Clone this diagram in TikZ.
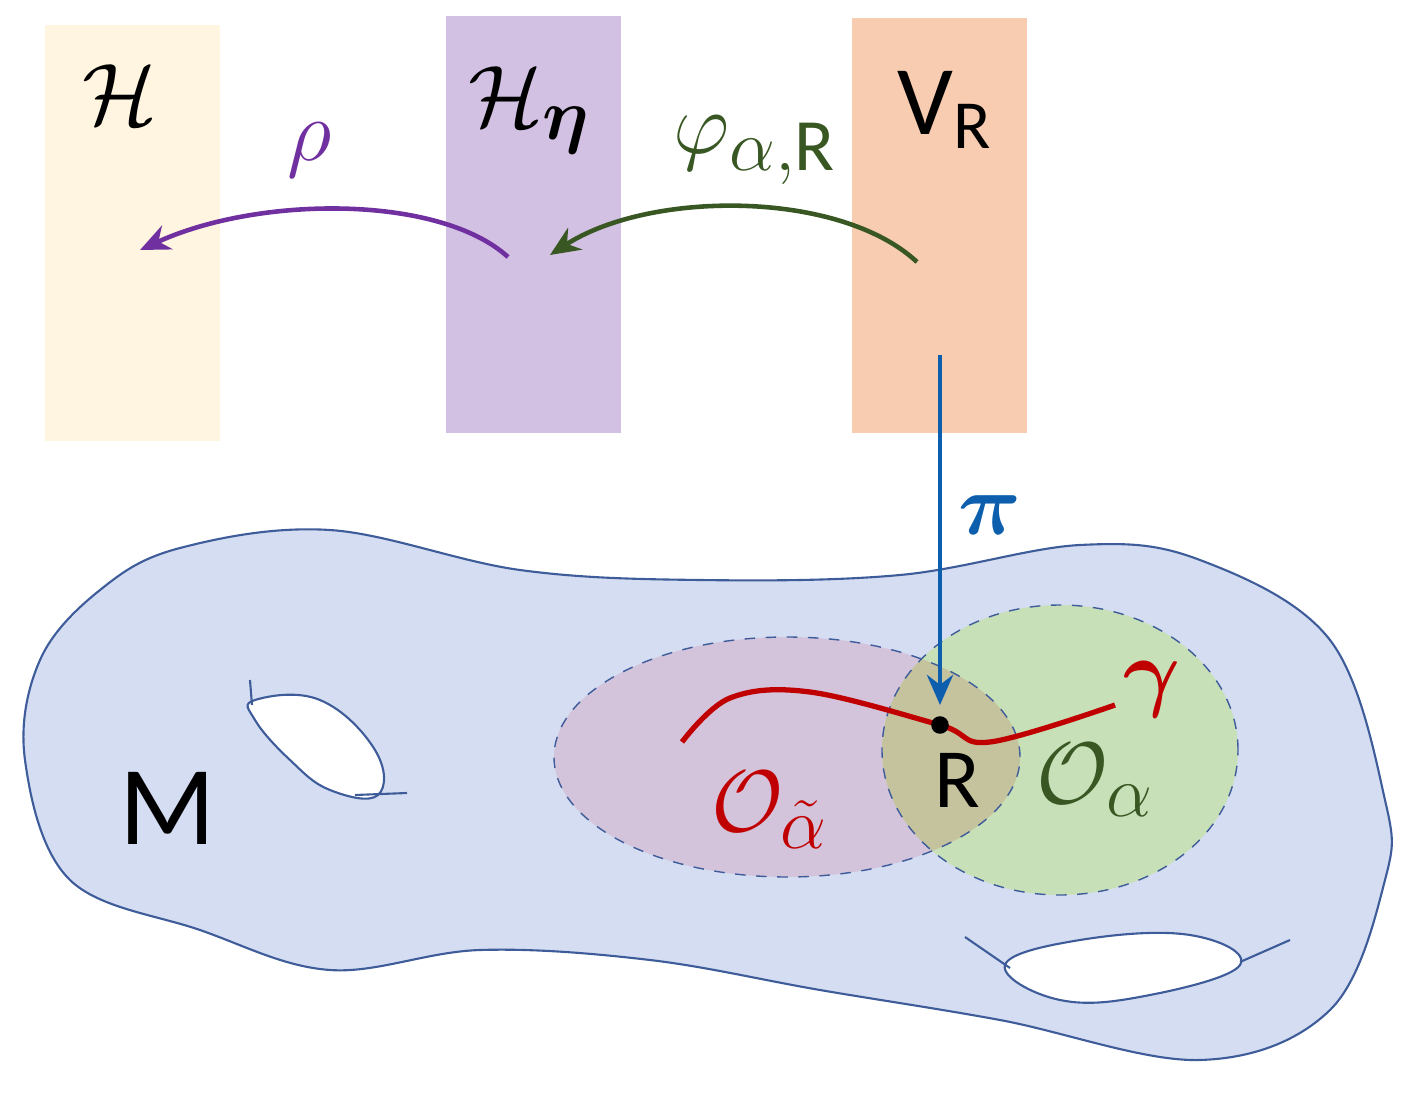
\documentclass[tikz,border=0pt]{standalone}
\usepackage{fontspec}
\setsansfont{Carlito}
\usepackage{amsmath,bm}
\usetikzlibrary{arrows.meta,positioning}
\definecolor{hyellow}{HTML}{FFF5E0}
\definecolor{hlav}{HTML}{D3C1E3}
\definecolor{vpeach}{HTML}{F8CCB1}
\definecolor{mblue}{HTML}{D4DDF2}
\definecolor{mline}{HTML}{3F5C9A}
\definecolor{opink}{HTML}{D3C3DB}
\definecolor{ogreen}{HTML}{C8E0B8}
\definecolor{oolive}{HTML}{C5C29E}
\definecolor{rhopurple}{HTML}{7030A0}
\definecolor{phigreen}{HTML}{385723}
\definecolor{piblue}{HTML}{0E5EAE}
\definecolor{gammared}{HTML}{C00000}
\tikzset{
    box/.style={draw=none,minimum width=1.75cm,anchor=north west},
    outline/.style={draw=mline,line width=0.6pt},
    region/.style={draw=mline,dashed,thin},
    arr/.style={->,>={Stealth[length=3mm,width=2.6mm]},line width=1.3pt},
    big/.style={font=\fontsize{30}{34}\selectfont},
    bigsf/.style={font=\sffamily\fontsize{32}{36}\selectfont},
}
\begin{document}
\begin{tikzpicture}[x=1cm,y=1cm]
    \useasboundingbox (0,0) rectangle (14.05,11.1);
    % spaces
    \node[box,fill=hyellow,minimum height=4.16cm] (H) at (0.44,10.86) {};
    \node[box,fill=hlav,minimum height=4.17cm] (Heta) at (4.45,10.95) {};
    \node[box,fill=vpeach,minimum height=4.15cm] (VR) at (8.51,10.93) {};
    \node[big] at (1.2,10.15) {$\mathcal{H}$};
    \node[big] at (5.3,10.0) {$\mathcal{H}_{\bm{\eta}}$};
    \node[font=\sffamily\fontsize{28}{32}\selectfont] at (9.45,10.0) {V\textsubscript{R}};
    % manifold
    \draw[outline,fill=mblue] plot[smooth cycle,tension=0.6] coordinates {
        (1.8,5.62) (3.3,5.8) (5.2,5.4) (7.0,5.3) (9.0,5.35) (10.8,5.65) (12.0,5.5)
        (13.3,4.7) (13.85,3.1) (13.85,2.3) (13.3,1.0) (12.0,0.5) (10.0,0.9)
        (8.2,1.2) (6.5,1.5) (4.8,1.6) (3.3,1.4) (2.0,1.8) (0.7,2.3) (0.25,3.5)
        (0.4,4.5) (1.0,5.2)};
    \node[bigsf] (M) at (1.68,3.02) {M};
    % holes
    \draw[outline,fill=white] plot[smooth cycle,tension=0.7] coordinates {
        (2.55,4.1) (3.2,4.1) (3.75,3.6) (3.78,3.15) (3.3,3.2) (2.9,3.5) (2.55,3.9)};
    \draw[outline] (2.5,4.3) -- (2.52,4.05);
    \draw[outline] (3.55,3.15) -- (4.07,3.17);
    \draw[outline,fill=white] plot[smooth cycle,tension=0.7] coordinates {
        (10.05,1.45) (10.8,1.7) (11.9,1.75) (12.4,1.45) (11.5,1.15) (10.6,1.1)};
    \draw[outline] (9.65,1.73) -- (10.1,1.42);
    \draw[outline] (12.4,1.48) -- (12.9,1.7);
    % open sets
    \fill[opink] (7.87,3.53) ellipse[x radius=2.33,y radius=1.2];
    \fill[ogreen] (10.6,3.6) ellipse[x radius=1.78,y radius=1.45];
    \begin{scope}
        \clip (7.87,3.53) ellipse[x radius=2.33,y radius=1.2];
        \fill[oolive] (10.6,3.6) ellipse[x radius=1.78,y radius=1.45];
    \end{scope}
    \draw[region] (7.87,3.53) ellipse[x radius=2.33,y radius=1.2];
    \draw[region] (10.6,3.6) ellipse[x radius=1.78,y radius=1.45];
    \node[big,text=gammared] at (7.7,3.0) {$\mathcal{O}_{\tilde{\alpha}}$};
    \node[big,text=phigreen] at (10.95,3.3) {$\mathcal{O}_{\alpha}$};
    % curve
    \draw[gammared,line width=1.5pt] plot[smooth,tension=0.6] coordinates {
        (6.82,3.68) (7.3,4.12) (8.1,4.18) (9.4,3.85) (9.9,3.68) (11.15,4.05)};
    \node[big,text=gammared] (gamma) at (11.52,4.2) {$\bm{\gamma}$};
    \node[circle,fill=black,inner sep=0pt,minimum size=5pt] (R) at (9.4,3.85) {};
    \node[font=\sffamily\fontsize{24}{28}\selectfont] (Rlab) at (9.57,3.3) {R};
    % maps
    \coordinate (pistart) at (9.4,7.55);
    \coordinate (piend) at (9.4,4.05);
    \draw[arr,piblue] (pistart) -- (piend);
    \node[big,text=piblue] at (9.9,5.95) {$\bm{\pi}$};
    \coordinate (phistart) at (9.17,8.48);
    \coordinate (phiend) at (5.5,8.55);
    \draw[arr,phigreen] (phistart) .. controls (8.4,9.2) and (6.5,9.2) .. (phiend);
    \node[big,text=phigreen] at (7.55,9.6) {$\varphi_{\alpha,\textsf{R}}$};
    \coordinate (rhostart) at (5.08,8.53);
    \coordinate (rhoend) at (1.4,8.6);
    \draw[arr,rhopurple] (rhostart) .. controls (4.4,9.15) and (2.6,9.15) .. (rhoend);
    \node[big,text=rhopurple] at (3.1,9.6) {$\rho$};
\end{tikzpicture}
\end{document}
